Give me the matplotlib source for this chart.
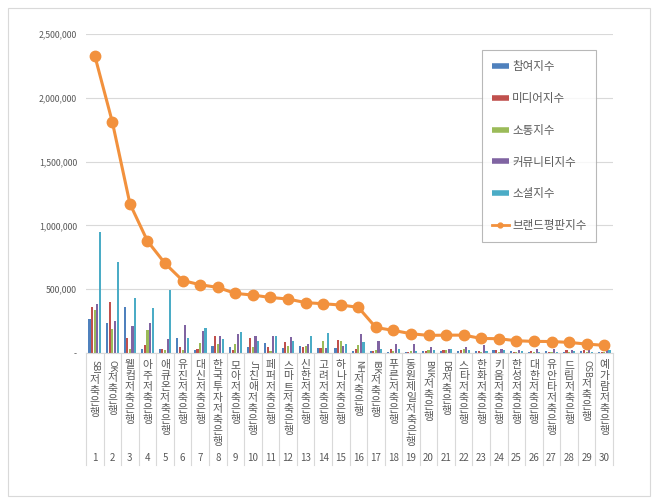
import matplotlib as mpl
mpl.use('Agg')
import matplotlib.pyplot as plt
import matplotlib.transforms as mtrans
from matplotlib.lines import Line2D
from matplotlib.patches import Rectangle
import numpy as np

plt.rcParams['font.family'] = ['Noto Sans CJK KR', 'DejaVu Sans']

# bank name = (latin prefix, hangul part)
banks = [('SBI', '저축은행'), ('OK', '저축은행'), ('', '웰컴저축은행'), ('', '아주저축은행'),
         ('', '애큐온저축은행'), ('', '유진저축은행'), ('', '대신저축은행'), ('', '한국투자저축은행'),
         ('', '모아저축은행'), ('JT', '친애저축은행'), ('', '페퍼저축은행'), ('', '스마트저축은행'),
         ('', '신한저축은행'), ('', '고려저축은행'), ('', '하나저축은행'), ('NH', '저축은행'),
         ('IBK', '저축은행'), ('', '푸른저축은행'), ('', '동원제일저축은행'), ('BNK', '저축은행'),
         ('DB', '저축은행'), ('', '스타저축은행'), ('', '한화저축은행'), ('', '키움저축은행'),
         ('', '한성저축은행'), ('', '대한저축은행'), ('', '유안타저축은행'), ('', '드림저축은행'),
         ('OSB', '저축은행'), ('', '예가람저축은행')]
ranks = list(range(1, 31))

participation = [267000, 235000, 361000, 30000, 30000, 118000, 25000, 55000, 47000, 47000,
                 78000, 40000, 55000, 40000, 40000, 18000, 13000, 8000, 8000, 15000,
                 15000, 15000, 12000, 25000, 15000, 10000, 12000, 8000, 15000, 8000]
media = [361000, 400000, 118000, 60000, 30000, 47000, 35000, 133000, 20000, 118000,
         47000, 86000, 47000, 40000, 102000, 28000, 13000, 28000, 8000, 15000,
         20000, 20000, 15000, 20000, 10000, 12000, 8000, 20000, 20000, 5000]
communication = [337000, 188000, 30000, 180000, 20000, 25000, 78000, 70000, 70000, 45000,
                 18000, 55000, 55000, 94000, 94000, 60000, 25000, 12000, 12000, 20000,
                 25000, 30000, 10000, 8000, 5000, 8000, 10000, 10000, 5000, 5000]
community = [385000, 250000, 212000, 235000, 110000, 220000, 173000, 130000, 150000, 130000,
             133000, 125000, 70000, 40000, 55000, 150000, 92000, 70000, 70000, 50000,
             30000, 45000, 60000, 30000, 25000, 35000, 35000, 25000, 30000, 35000]
social = [950000, 714000, 430000, 353000, 495000, 118000, 196000, 110000, 165000, 94000,
          130000, 94000, 133000, 157000, 70000, 86000, 35000, 28000, 18000, 20000,
          35000, 20000, 15000, 25000, 15000, 10000, 10000, 12000, 10000, 20000]
brand = [2330000, 1810000, 1170000, 877000, 702000, 568000, 535000, 514000, 467000, 454000,
         435000, 423000, 395000, 386000, 376000, 358000, 200000, 177000, 151000, 138000,
         140000, 140000, 114000, 112000, 96000, 91000, 90000, 83000, 70000, 60000]

series_names = ['참여지수', '미디어지수', '소통지수', '커뮤니티지수', '소셜지수']
series_vals = [participation, media, communication, community, social]
series_colors = ['#4F81BD', '#C0504D', '#9BBB59', '#8064A2', '#4BACC6']
line_name = '브랜드평판지수'
line_color = '#F2913D'


def main():
    fig = plt.figure(figsize=(6.6, 5.03), dpi=100)
    fig.patches.append(Rectangle((8 / 660, 1 - 496 / 503), 642 / 660, 488 / 503,
                                 transform=fig.transFigure, fill=False,
                                 edgecolor='#D9D9D9', linewidth=0.8))
    ax = fig.add_axes([86 / 660, 1 - 353 / 503, 527 / 660, 319 / 503])
    x = np.arange(len(banks))

    step = 0.15
    for k, (vals, col) in enumerate(zip(series_vals, series_colors)):
        ax.bar(x + (k - 2) * step, vals, width=0.12, color=col, zorder=2)
    ax.plot(x, brand, color=line_color, linewidth=2.2, marker='o', markersize=7.5,
            zorder=3)

    ax.set_xlim(-0.5, len(banks) - 0.5)
    ax.set_ylim(0, 2500000)
    ax.set_yticks(np.arange(0, 2500001, 500000))
    ax.set_yticklabels(['-' if v == 0 else '{:,}'.format(v) for v in range(0, 2500001, 500000)])
    ax.tick_params(axis='y', length=0, pad=6.5, labelsize=6.3, labelcolor='#595959')
    ax.set_xticks([])
    ax.grid(axis='y', color='#D9D9D9', linewidth=0.8, zorder=0)
    for s in ['top', 'right', 'left']:
        ax.spines[s].set_visible(False)
    ax.spines['bottom'].set_color('#D9D9D9')

    # category separators
    trans = mtrans.blended_transform_factory(ax.transData, ax.transAxes)
    for b in np.arange(-0.5, len(banks), 1.0):
        ax.plot([b, b], [0, -112 / 319], color='#D9D9D9', linewidth=0.8,
                transform=trans, clip_on=False)

    # two-level labels: names (stacked hangul) and rank numbers
    fig.canvas.draw()
    renderer = fig.canvas.get_renderer()
    px = 0.72
    for i, (latin, hangul) in enumerate(banks):
        off = 7
        if latin:
            t = ax.annotate(latin, xy=(i, 0), xycoords=trans, xytext=(0, -off * px),
                            textcoords='offset points', rotation=270, ha='center',
                            va='top', fontsize=6.5, color='#595959')
            bb = t.get_window_extent(renderer)
            off += bb.height + 1
        for ch in hangul:
            ax.annotate(ch, xy=(i, 0), xycoords=trans, xytext=(0, -off * px),
                        textcoords='offset points', ha='center', va='top',
                        fontsize=7.8, color='#595959')
            off += 11
        ax.annotate(str(ranks[i]), xy=(i, 0), xycoords=trans, xytext=(0, -105 * px),
                    textcoords='offset points', ha='center', va='center',
                    fontsize=7, color='#595959')

    handles = [Line2D([], [], color=c, linewidth=4, solid_capstyle='butt') for c in series_colors]
    handles.append(Line2D([], [], color=line_color, linewidth=2, marker='o', markersize=3.5))
    leg = fig.legend(handles, series_names + [line_name], loc='upper left',
                     bbox_to_anchor=(482 / 660, 1 - 50 / 503), fontsize=8.3,
                     frameon=True, fancybox=False, edgecolor='#A6A6A6',
                     labelspacing=1.64, handlelength=1.45, handletextpad=0.3,
                     borderpad=0.85, borderaxespad=0)
    leg.get_frame().set_linewidth(0.8)
    for t in leg.get_texts():
        t.set_color('#595959')

    plt.savefig('out.png', dpi=100)


if __name__ == '__main__':
    main()
